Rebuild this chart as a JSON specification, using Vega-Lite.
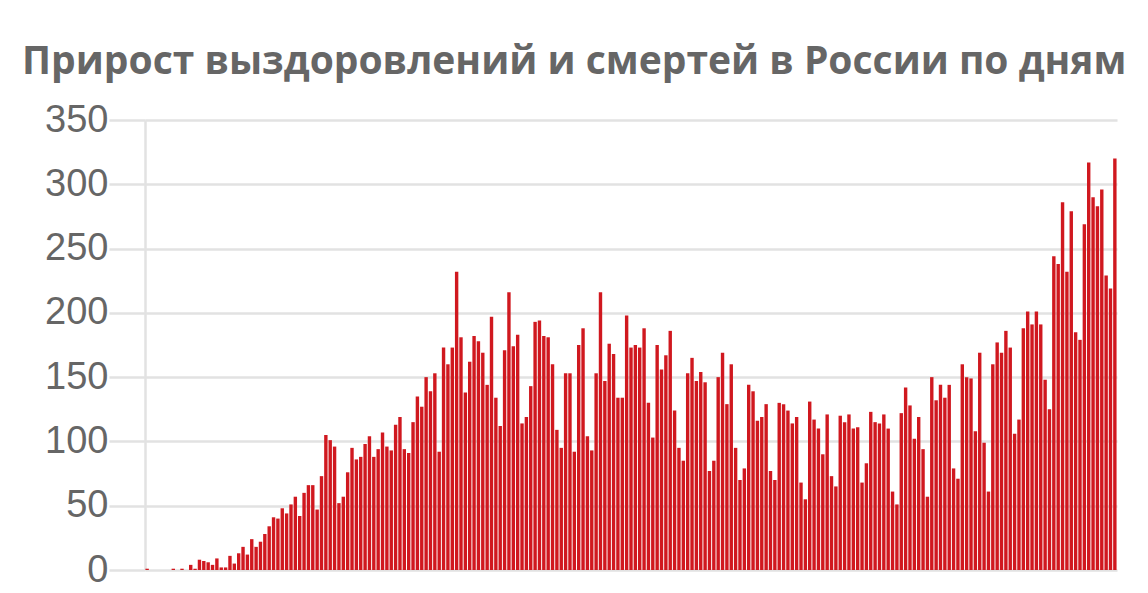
{
  "$schema": "https://vega.github.io/schema/vega-lite/v6.json",
  "width": 972,
  "height": 450,
  "autosize": {"type": "none"},
  "padding": {"left": 145, "top": 120, "right": 31, "bottom": 23},
  "background": "white",
  "title": {
    "text": "Прирост выздоровлений и смертей в России по дням",
    "anchor": "start",
    "frame": "group",
    "dx": -123,
    "offset": -12,
    "baseline": "alphabetic",
    "font": "Open Sans",
    "fontSize": 39,
    "fontWeight": "bold",
    "color": "#666666"
  },
  "data": {
    "values": [
      {"date": "2020-03-19", "v": 1}, {"date": "2020-03-20", "v": 0}, {"date": "2020-03-21", "v": 0}, {"date": "2020-03-22", "v": 0}, {"date": "2020-03-23", "v": 0}, {"date": "2020-03-24", "v": 0}, {"date": "2020-03-25", "v": 1}, {"date": "2020-03-26", "v": 0}, {"date": "2020-03-27", "v": 1}, {"date": "2020-03-28", "v": 0}, {"date": "2020-03-29", "v": 4}, {"date": "2020-03-30", "v": 1}, {"date": "2020-03-31", "v": 8},
      {"date": "2020-04-01", "v": 7}, {"date": "2020-04-02", "v": 6}, {"date": "2020-04-03", "v": 4}, {"date": "2020-04-04", "v": 9}, {"date": "2020-04-05", "v": 2}, {"date": "2020-04-06", "v": 2}, {"date": "2020-04-07", "v": 11}, {"date": "2020-04-08", "v": 5}, {"date": "2020-04-09", "v": 13}, {"date": "2020-04-10", "v": 18}, {"date": "2020-04-11", "v": 12}, {"date": "2020-04-12", "v": 24}, {"date": "2020-04-13", "v": 18}, {"date": "2020-04-14", "v": 22}, {"date": "2020-04-15", "v": 28}, {"date": "2020-04-16", "v": 34}, {"date": "2020-04-17", "v": 41}, {"date": "2020-04-18", "v": 40}, {"date": "2020-04-19", "v": 48}, {"date": "2020-04-20", "v": 44}, {"date": "2020-04-21", "v": 51}, {"date": "2020-04-22", "v": 57}, {"date": "2020-04-23", "v": 42}, {"date": "2020-04-24", "v": 60}, {"date": "2020-04-25", "v": 66}, {"date": "2020-04-26", "v": 66}, {"date": "2020-04-27", "v": 47}, {"date": "2020-04-28", "v": 73}, {"date": "2020-04-29", "v": 105}, {"date": "2020-04-30", "v": 101},
      {"date": "2020-05-01", "v": 96}, {"date": "2020-05-02", "v": 52}, {"date": "2020-05-03", "v": 57}, {"date": "2020-05-04", "v": 76}, {"date": "2020-05-05", "v": 95}, {"date": "2020-05-06", "v": 86}, {"date": "2020-05-07", "v": 88}, {"date": "2020-05-08", "v": 98}, {"date": "2020-05-09", "v": 104}, {"date": "2020-05-10", "v": 88}, {"date": "2020-05-11", "v": 94}, {"date": "2020-05-12", "v": 107}, {"date": "2020-05-13", "v": 96}, {"date": "2020-05-14", "v": 93}, {"date": "2020-05-15", "v": 113}, {"date": "2020-05-16", "v": 119}, {"date": "2020-05-17", "v": 94}, {"date": "2020-05-18", "v": 91}, {"date": "2020-05-19", "v": 115}, {"date": "2020-05-20", "v": 135}, {"date": "2020-05-21", "v": 127}, {"date": "2020-05-22", "v": 150}, {"date": "2020-05-23", "v": 139}, {"date": "2020-05-24", "v": 153}, {"date": "2020-05-25", "v": 92}, {"date": "2020-05-26", "v": 173}, {"date": "2020-05-27", "v": 160}, {"date": "2020-05-28", "v": 173}, {"date": "2020-05-29", "v": 232}, {"date": "2020-05-30", "v": 181}, {"date": "2020-05-31", "v": 138},
      {"date": "2020-06-01", "v": 162}, {"date": "2020-06-02", "v": 182}, {"date": "2020-06-03", "v": 178}, {"date": "2020-06-04", "v": 169}, {"date": "2020-06-05", "v": 144}, {"date": "2020-06-06", "v": 197}, {"date": "2020-06-07", "v": 134}, {"date": "2020-06-08", "v": 112}, {"date": "2020-06-09", "v": 171}, {"date": "2020-06-10", "v": 216}, {"date": "2020-06-11", "v": 174}, {"date": "2020-06-12", "v": 183}, {"date": "2020-06-13", "v": 114}, {"date": "2020-06-14", "v": 119}, {"date": "2020-06-15", "v": 143}, {"date": "2020-06-16", "v": 193}, {"date": "2020-06-17", "v": 194}, {"date": "2020-06-18", "v": 182}, {"date": "2020-06-19", "v": 181}, {"date": "2020-06-20", "v": 160}, {"date": "2020-06-21", "v": 109}, {"date": "2020-06-22", "v": 95}, {"date": "2020-06-23", "v": 153}, {"date": "2020-06-24", "v": 153}, {"date": "2020-06-25", "v": 92}, {"date": "2020-06-26", "v": 175}, {"date": "2020-06-27", "v": 188}, {"date": "2020-06-28", "v": 104}, {"date": "2020-06-29", "v": 93}, {"date": "2020-06-30", "v": 153},
      {"date": "2020-07-01", "v": 216}, {"date": "2020-07-02", "v": 147}, {"date": "2020-07-03", "v": 176}, {"date": "2020-07-04", "v": 168}, {"date": "2020-07-05", "v": 134}, {"date": "2020-07-06", "v": 134}, {"date": "2020-07-07", "v": 198}, {"date": "2020-07-08", "v": 173}, {"date": "2020-07-09", "v": 175}, {"date": "2020-07-10", "v": 173}, {"date": "2020-07-11", "v": 188}, {"date": "2020-07-12", "v": 130}, {"date": "2020-07-13", "v": 103}, {"date": "2020-07-14", "v": 175}, {"date": "2020-07-15", "v": 156}, {"date": "2020-07-16", "v": 167}, {"date": "2020-07-17", "v": 186}, {"date": "2020-07-18", "v": 124}, {"date": "2020-07-19", "v": 95}, {"date": "2020-07-20", "v": 85}, {"date": "2020-07-21", "v": 153}, {"date": "2020-07-22", "v": 165}, {"date": "2020-07-23", "v": 147}, {"date": "2020-07-24", "v": 154}, {"date": "2020-07-25", "v": 146}, {"date": "2020-07-26", "v": 77}, {"date": "2020-07-27", "v": 85}, {"date": "2020-07-28", "v": 150}, {"date": "2020-07-29", "v": 169}, {"date": "2020-07-30", "v": 129}, {"date": "2020-07-31", "v": 160},
      {"date": "2020-08-01", "v": 95}, {"date": "2020-08-02", "v": 70}, {"date": "2020-08-03", "v": 79}, {"date": "2020-08-04", "v": 144}, {"date": "2020-08-05", "v": 139}, {"date": "2020-08-06", "v": 116}, {"date": "2020-08-07", "v": 119}, {"date": "2020-08-08", "v": 129}, {"date": "2020-08-09", "v": 77}, {"date": "2020-08-10", "v": 70}, {"date": "2020-08-11", "v": 130}, {"date": "2020-08-12", "v": 129}, {"date": "2020-08-13", "v": 124}, {"date": "2020-08-14", "v": 114}, {"date": "2020-08-15", "v": 119}, {"date": "2020-08-16", "v": 68}, {"date": "2020-08-17", "v": 55}, {"date": "2020-08-18", "v": 131}, {"date": "2020-08-19", "v": 117}, {"date": "2020-08-20", "v": 110}, {"date": "2020-08-21", "v": 90}, {"date": "2020-08-22", "v": 121}, {"date": "2020-08-23", "v": 73}, {"date": "2020-08-24", "v": 65}, {"date": "2020-08-25", "v": 120}, {"date": "2020-08-26", "v": 115}, {"date": "2020-08-27", "v": 121}, {"date": "2020-08-28", "v": 110}, {"date": "2020-08-29", "v": 111}, {"date": "2020-08-30", "v": 68}, {"date": "2020-08-31", "v": 83},
      {"date": "2020-09-01", "v": 123}, {"date": "2020-09-02", "v": 115}, {"date": "2020-09-03", "v": 114}, {"date": "2020-09-04", "v": 121}, {"date": "2020-09-05", "v": 110}, {"date": "2020-09-06", "v": 61}, {"date": "2020-09-07", "v": 51}, {"date": "2020-09-08", "v": 122}, {"date": "2020-09-09", "v": 142}, {"date": "2020-09-10", "v": 128}, {"date": "2020-09-11", "v": 102}, {"date": "2020-09-12", "v": 119}, {"date": "2020-09-13", "v": 94}, {"date": "2020-09-14", "v": 57}, {"date": "2020-09-15", "v": 150}, {"date": "2020-09-16", "v": 132}, {"date": "2020-09-17", "v": 144}, {"date": "2020-09-18", "v": 134}, {"date": "2020-09-19", "v": 144}, {"date": "2020-09-20", "v": 79}, {"date": "2020-09-21", "v": 71}, {"date": "2020-09-22", "v": 160}, {"date": "2020-09-23", "v": 150}, {"date": "2020-09-24", "v": 149}, {"date": "2020-09-25", "v": 108}, {"date": "2020-09-26", "v": 169}, {"date": "2020-09-27", "v": 99}, {"date": "2020-09-28", "v": 61}, {"date": "2020-09-29", "v": 160}, {"date": "2020-09-30", "v": 177},
      {"date": "2020-10-01", "v": 169}, {"date": "2020-10-02", "v": 186}, {"date": "2020-10-03", "v": 173}, {"date": "2020-10-04", "v": 106}, {"date": "2020-10-05", "v": 117}, {"date": "2020-10-06", "v": 188}, {"date": "2020-10-07", "v": 201}, {"date": "2020-10-08", "v": 191}, {"date": "2020-10-09", "v": 201}, {"date": "2020-10-10", "v": 191}, {"date": "2020-10-11", "v": 148}, {"date": "2020-10-12", "v": 125}, {"date": "2020-10-13", "v": 244}, {"date": "2020-10-14", "v": 238}, {"date": "2020-10-15", "v": 286}, {"date": "2020-10-16", "v": 232}, {"date": "2020-10-17", "v": 279}, {"date": "2020-10-18", "v": 185}, {"date": "2020-10-19", "v": 179}, {"date": "2020-10-20", "v": 269}, {"date": "2020-10-21", "v": 317}, {"date": "2020-10-22", "v": 290}, {"date": "2020-10-23", "v": 283}, {"date": "2020-10-24", "v": 296}, {"date": "2020-10-25", "v": 229}, {"date": "2020-10-26", "v": 219}, {"date": "2020-10-27", "v": 320}
    ]
  },
  "mark": {"type": "bar", "color": "#d0181f"},
  "encoding": {
    "x": {
      "field": "date",
      "type": "ordinal",
      "axis": null,
      "scale": {"paddingInner": 0.22, "paddingOuter": 0.1}
    },
    "y": {
      "field": "v",
      "type": "quantitative",
      "scale": {"domain": [0, 350]},
      "axis": {
        "values": [0, 50, 100, 150, 200, 250, 300, 350],
        "title": null,
        "grid": true,
        "gridColor": "#e2e2e2",
        "gridWidth": 2.5,
        "domain": true,
        "domainColor": "#e2e2e2",
        "domainWidth": 2.5,
        "ticks": true,
        "tickSize": 36,
        "tickColor": "#e2e2e2",
        "tickWidth": 2.5,
        "labelPadding": 1,
        "labelFont": "Liberation Sans",
        "labelFontSize": 38,
        "labelColor": "#666666"
      }
    }
  },
  "config": {"view": {"stroke": null}}
}
